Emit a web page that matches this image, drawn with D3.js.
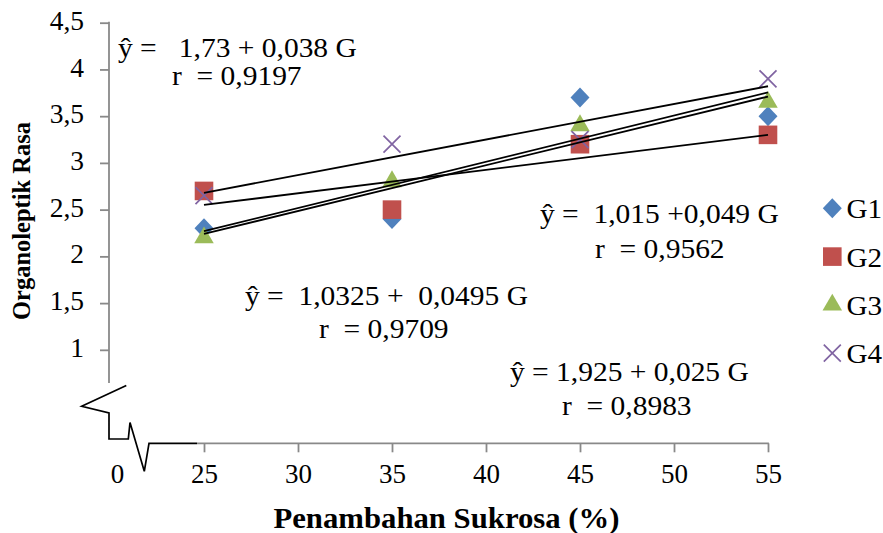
<!DOCTYPE html>
<html>
<head>
<meta charset="utf-8">
<script src="https://cdn.jsdelivr.net/npm/d3@7"></script>
<style>
  body { margin: 0; background: #fff; }
  svg { display: block; }
</style>
</head>
<body>
<svg id="chart" width="883" height="533"></svg>
<script>
// Sucrose additions (%) and taste scores for each group
const doses = [25, 35, 45, 55];
const seriesNames = ["G1", "G2", "G3", "G4"];
const g1 = [2.3, 2.4, 3.7, 3.5];
const g2 = [2.7, 2.5, 3.2, 3.3];
const g3 = [2.2, 2.8, 3.4, 3.65];
const g4 = [2.65, 3.2, 3.25, 3.9];

// Linear fits y = a + b*G for each group
const intercepts = [1.015, 1.925, 1.0325, 1.73];
const slopes = [0.049, 0.025, 0.0495, 0.038];
const eqLabels = ["ŷ =  1,015 +0,049 G", "ŷ = 1,925 + 0,025 G", "ŷ =  1,0325 +  0,0495 G", "ŷ =   1,73 + 0,038 G"];
const rLabels = ["r  = 0,9562", "r  = 0,8983", "r  = 0,9709", "r  = 0,9197"];

const xTicks = [25, 30, 35, 40, 45, 50, 55];
const yTicks = [1, 1.5, 2, 2.5, 3, 3.5, 4, 4.5];

const colors = ["#4F81BD", "#C0504D", "#9BBB59", "#8064A2"];
const shapes = ["diamond", "square", "triangle", "x"];
const values = [g1, g2, g3, g4];

const serif = "'Liberation Serif', 'Times New Roman', Times, serif";
const axisGray = "#898989";
const stretch = 1.08;

const svg = d3.select("#chart");

const x = d3.scaleLinear().domain([25, 55]).range([204, 768]);
const y = d3.scaleLinear().domain([0, 4.5]).range([443.3, 22.7]);
const axisLeftX = 109;
const axisBaseY = y(0);

const commaFmt = d => String(d).replace(".", ",");

// Marker path for each shape, centred on (0,0)
function markerPath(shape) {
  if (shape === "diamond") return "M0,-10L9.5,0L0,10L-9.5,0Z";
  if (shape === "square") return "M-9.3,-9.3H9.3V9.3H-9.3Z";
  if (shape === "triangle") return d3.symbol(d3.symbolTriangle, 165)();
  return "M-8.5,-8.5L8.5,8.5M-8.5,8.5L8.5,-8.5";
}

function drawMarker(sel, shape, color) {
  const p = sel.append("path").attr("d", markerPath(shape));
  if (shape === "x") p.attr("fill", "none").attr("stroke", color).attr("stroke-width", 1.7);
  else p.attr("fill", color);
  return p;
}

// Text helper with a slight horizontal stretch
function label(parent, tx, ty, text, opts = {}) {
  const g = parent.append("g")
    .attr("transform", `translate(${tx},${ty}) scale(${opts.sx || stretch},1)`);
  return g.append("text")
    .attr("x", 0).attr("y", 0)
    .attr("font-family", serif)
    .attr("font-size", opts.size || 27)
    .attr("font-weight", opts.weight || "normal")
    .attr("text-anchor", opts.anchor || "start")
    .attr("fill", "#000")
    .style("white-space", "pre")
    .text(text);
}

// Y axis
const yAxis = svg.append("g")
  .attr("transform", `translate(${axisLeftX},0)`)
  .call(d3.axisLeft(y).tickValues(yTicks).tickSize(9).tickPadding(16).tickFormat(commaFmt));
yAxis.select(".domain").remove();
yAxis.selectAll(".tick line").attr("stroke", axisGray).attr("stroke-width", 1.8);
yAxis.selectAll(".tick text")
  .attr("font-family", serif).attr("font-size", 27.5).attr("fill", "#000")
  .attr("dy", "0.24em");
yAxis.append("line")
  .attr("x1", 0).attr("x2", 0)
  .attr("y1", y(4.5) - 0.9).attr("y2", y(0.645))
  .attr("stroke", axisGray).attr("stroke-width", 1.8);

// X axis
const xAxis = svg.append("g")
  .attr("transform", `translate(0,${axisBaseY})`)
  .call(d3.axisBottom(x).tickValues(xTicks).tickSize(9).tickPadding(12));
xAxis.select(".domain").remove();
xAxis.selectAll(".tick line").attr("stroke", axisGray).attr("stroke-width", 1.8);
xAxis.selectAll(".tick text")
  .attr("font-family", serif).attr("font-size", 27).attr("fill", "#000");
xAxis.append("line")
  .attr("x1", 197).attr("x2", x(55) + 0.9)
  .attr("y1", 0).attr("y2", 0)
  .attr("stroke", axisGray).attr("stroke-width", 1.8);

// Origin label before the axis break
svg.append("text")
  .attr("x", axisLeftX + 8.5).attr("y", axisBaseY + 40)
  .attr("font-family", serif).attr("font-size", 27)
  .attr("text-anchor", "middle").text("0");

// Axis break glyph (zig-zags on both axes)
const breakPts = [[17.3, -57.7], [-27.3, -37], [0, -30.3], [0, -4.3], [19.3, -4.3],
  [21, -20.7], [35.3, 28], [40, 0], [88, 0]];
svg.append("path")
  .attr("d", d3.line()(breakPts.map(([dx, dy]) => [axisLeftX + dx, axisBaseY + dy])))
  .attr("fill", "none").attr("stroke", "#000").attr("stroke-width", 1.7)
  .attr("stroke-linejoin", "miter");

// Data markers
values.forEach((vals, i) => {
  const g = svg.append("g");
  vals.forEach((v, j) => {
    drawMarker(g.append("g").attr("transform", `translate(${x(doses[j])},${y(v)})`), shapes[i], colors[i]);
  });
});

// Fitted lines over the markers
const lineOrder = [1, 3, 0, 2];
lineOrder.forEach(i => {
  const x0 = doses[0], x1 = doses[doses.length - 1];
  svg.append("line")
    .attr("x1", x(x0)).attr("y1", y(intercepts[i] + slopes[i] * x0))
    .attr("x2", x(x1)).attr("y2", y(intercepts[i] + slopes[i] * x1))
    .attr("stroke", "#000").attr("stroke-width", 1.8);
});

// Equation annotations: [eq x, eq baseline, r x, r baseline]
const eqPos = [[540, 223, 595, 258], [510, 381, 562, 415], [245, 305, 319, 338], [118, 57, 172, 85]];
eqPos.forEach((p, i) => {
  label(svg, p[0], p[1], eqLabels[i], { size: 27.3 });
  label(svg, p[2], p[3], rLabels[i], { size: 27.3 });
});

// Legend
seriesNames.forEach((name, i) => {
  const ly = 208.3 + i * 48.3;
  drawMarker(svg.append("g").attr("transform", `translate(832.3,${ly})`), shapes[i], colors[i]);
  label(svg, 846.5, ly + 10, name, { size: 27 });
});

// Axis titles
label(svg, 446.5, 528, "Penambahan Sukrosa (%)", { size: 29, weight: "bold", anchor: "middle", sx: 1.06 });
svg.append("text")
  .attr("transform", "translate(30,221) rotate(-90)")
  .attr("font-family", serif).attr("font-size", 24.5).attr("font-weight", "bold")
  .attr("text-anchor", "middle").text("Organoleptik Rasa");
</script>
</body>
</html>
